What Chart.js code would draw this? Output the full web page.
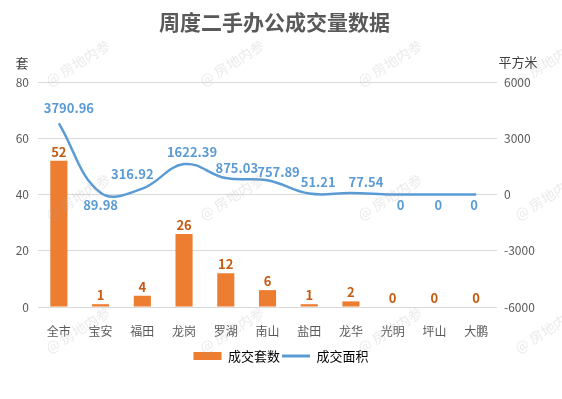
<!DOCTYPE html>
<html>
<head>
<meta charset="utf-8">
<script src="https://cdn.jsdelivr.net/npm/chart.js@4"></script>
<style>
  html, body { margin: 0; padding: 0; background: #fff; }
  #wrap { width: 562px; height: 399px; }
</style>
</head>
<body>
<div id="wrap"><canvas id="chart"></canvas></div>
<script>
const districts = ['全市', '宝安', '福田', '龙岗', '罗湖', '南山', '盐田', '龙华', '光明', '坪山', '大鹏'];
const dealUnits = [52, 1, 4, 26, 12, 6, 1, 2, 0, 0, 0];
const dealArea = [3790.96, 89.98, 316.92, 1622.39, 875.03, 757.89, 51.21, 77.54, 0, 0, 0];
const unitTicks = [0, 20, 40, 60, 80];
const areaTicks = [-6000, -3000, 0, 3000, 6000];

// where the area labels sit around their point (px)
const areaLabelDx = [10, 0, -10, 8, 11, 11, 9, 15, 8, 4, -2];
const areaLabelDy = [-15, 12, -14, -12, -10, -8, -11, -11, 11, 11, 11];

const FONT = '"Noto Sans CJK SC", "Microsoft YaHei", sans-serif';
const GREY = '#595959';
const ORANGE = '#ED7D31';
const BLUE = '#5B9BD5';

const decorPlugin = {
  id: 'decor',
  afterDatasetsDraw(chart) {
    const ctx = chart.ctx;
    ctx.save();
    ctx.textAlign = 'center';
    ctx.textBaseline = 'middle';
    ctx.font = 'bold 13px ' + FONT;

    ctx.fillStyle = '#C55A11';
    chart.getDatasetMeta(0).data.forEach((bar, i) => {
      ctx.fillText(String(dealUnits[i]), bar.x, bar.y - 9);
    });

    ctx.fillStyle = BLUE;
    chart.getDatasetMeta(1).data.forEach((pt, i) => {
      ctx.fillText(String(dealArea[i]), pt.x + areaLabelDx[i], pt.y + areaLabelDy[i]);
    });
    ctx.restore();
  },
  afterDraw(chart) {
    const ctx = chart.ctx;
    const area = chart.chartArea;
    ctx.save();
    ctx.textAlign = 'center';
    ctx.textBaseline = 'middle';

    ctx.fillStyle = GREY;
    ctx.font = 'bold 21px ' + FONT;
    ctx.fillText('周度二手办公成交量数据', 274.5, 22);

    ctx.font = '13px ' + FONT;
    ctx.fillStyle = '#404040';
    ctx.fillText('套', 22, area.top - 19);
    ctx.fillText('平方米', 518, area.top - 20);

    // watermark
    ctx.font = '14px ' + FONT;
    ctx.fillStyle = 'rgba(170,170,170,0.25)';
    [78, 232, 390, 547].forEach(x => {
      [63, 197, 330].forEach(y => {
        ctx.save();
        ctx.translate(x, y);
        ctx.rotate(-32 * Math.PI / 180);
        ctx.fillText('@ 房地内参', 0, 0);
        ctx.restore();
      });
    });
    ctx.restore();
  }
};

new Chart(document.getElementById('chart'), {
  type: 'bar',
  data: {
    labels: districts,
    datasets: [
      {
        type: 'bar',
        label: '成交套数',
        data: dealUnits,
        backgroundColor: ORANGE,
        borderWidth: 0,
        yAxisID: 'y',
        categoryPercentage: 1,
        barPercentage: 0.41,
        order: 1
      },
      {
        type: 'line',
        label: '成交面积',
        data: dealArea,
        borderColor: BLUE,
        backgroundColor: BLUE,
        borderWidth: 2.5,
        tension: 0.4,
        pointRadius: 0,
        fill: false,
        yAxisID: 'y1',
        order: 0
      }
    ]
  },
  options: {
    responsive: true,
    maintainAspectRatio: false,
    animation: false,
    layout: { padding: { top: 82, bottom: 26.5, left: 0, right: 0 } },
    scales: {
      x: {
        grid: { display: false },
        border: { display: false },
        ticks: { color: GREY, font: { family: FONT, size: 12 }, padding: 9 },
        afterFit(scale) { scale.height = 40.5; }
      },
      y: {
        position: 'left',
        min: unitTicks[0],
        max: unitTicks[unitTicks.length - 1],
        grid: { color: '#D9D9D9', drawTicks: false },
        border: { display: false },
        ticks: { stepSize: 20, color: GREY, font: { family: FONT, size: 12 }, padding: 9 },
        afterFit(scale) { scale.width = 38; }
      },
      y1: {
        position: 'right',
        min: areaTicks[0],
        max: areaTicks[areaTicks.length - 1],
        grid: { display: false, drawTicks: false },
        border: { display: false },
        ticks: {
          stepSize: 3000,
          color: GREY,
          font: { family: FONT, size: 12 },
          padding: 7,
          callback: (v) => String(v)
        },
        afterFit(scale) { scale.width = 65; }
      }
    },
    plugins: {
      title: { display: false },
      tooltip: { enabled: false },
      legend: {
        position: 'bottom',
        labels: {
          usePointStyle: true,
          pointStyleWidth: 28,
          boxHeight: 8,
          padding: 2,
          color: GREY,
          font: { family: FONT, size: 13 },
          generateLabels(chart) {
            return chart.data.datasets.map((ds, i) => ({
              text: ds.label,
              fillStyle: ds.type === 'line' ? ds.borderColor : ds.backgroundColor,
              strokeStyle: ds.type === 'line' ? ds.borderColor : ds.backgroundColor,
              lineWidth: ds.type === 'line' ? 3 : 0,
              pointStyle: ds.type === 'line' ? 'line' : 'rect',
              hidden: false,
              datasetIndex: i
            }));
          }
        }
      }
    }
  },
  plugins: [decorPlugin]
});
</script>
</body>
</html>
